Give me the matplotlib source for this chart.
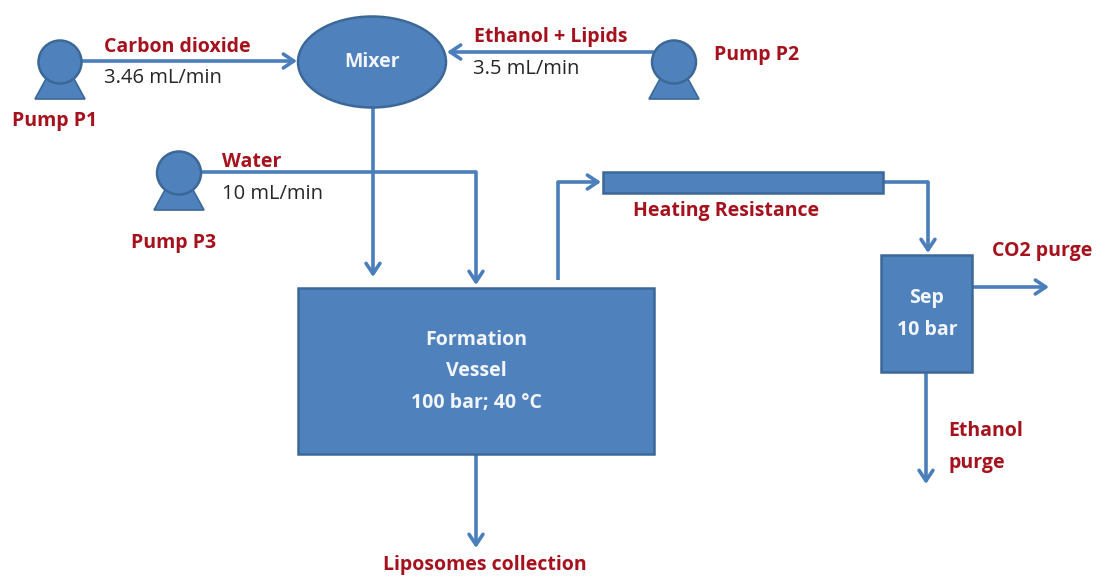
"""Process flow sheet: liposome formation with dense CO2."""

import matplotlib
matplotlib.use('Agg')
import matplotlib.pyplot as plt
from matplotlib.patches import Circle, Ellipse, Polygon, Rectangle

BLUE = '#4f81bd'
EDGE = '#3c6898'
LINE = '#4a7fbc'
RED = '#a5121d'
DARK = '#262626'

# pump: centre x, centre y, radius x, radius y
pump_names = ['P1', 'P2', 'P3']
pump_x = [60, 674, 179]
pump_y = [62, 62, 173]
pump_rx = [21.5, 22, 22]
pump_ry = [21.5, 21.5, 21.5]

# pipes, all of them go through these corners
arrow_paths = [
    [(82, 61), (297, 61)],
    [(653, 52), (447, 52)],
    [(373, 107), (373, 277)],
    [(201, 172), (476, 172), (476, 285)],
    [(558, 280), (558, 182), (601, 182)],
    [(883, 182), (928, 182), (928, 253)],
    [(973, 287), (1049, 287)],
    [(926, 372), (926, 484)],
    [(476, 454), (476, 548)],
]

red_labels = [
    (104, 47, 'Carbon dioxide'),
    (474, 37, 'Ethanol + Lipids'),
    (714, 55, 'Pump P2'),
    (12, 121, 'Pump P1'),
    (222, 162, 'Water'),
    (131, 243, 'Pump P3'),
    (633, 211, 'Heating Resistance'),
    (992, 251, 'CO2 purge'),
    (948, 431, 'Ethanol'),
    (948, 463, 'purge'),
    (383, 565, 'Liposomes collection'),
]
flow_labels = [
    (104, 78, '3.46 mL/min'),
    (473, 69, '3.5 mL/min'),
    (222, 194, '10 mL/min'),
]
white_labels = [
    (372, 62, 'Mixer'),
    (476, 340, 'Formation'),
    (476, 371, 'Vessel'),
    (476, 403, '100 bar; 40 °C'),
    (927, 298, 'Sep'),
    (927, 330, '10 bar'),
]

plt.rcParams['font.family'] = ['Open Sans', 'DejaVu Sans']

fig = plt.figure(figsize=(11.07, 5.77), dpi=100)
ax = fig.add_axes([0, 0, 1, 1])
ax.set_xlim(0, 1107)
ax.set_ylim(577, 0)
ax.axis('off')

# pipes first so the boxes sit on top
for path in arrow_paths:
    xs = [p[0] for p in path]
    ys = [p[1] for p in path]
    ax.plot(xs[:-1], ys[:-1], color=LINE, lw=2.6, solid_capstyle='butt', solid_joinstyle='miter')
    ax.annotate('', xy=path[-1], xytext=path[-2],
                arrowprops=dict(arrowstyle='->,head_length=0.75,head_width=0.5', color=LINE,
                                lw=2.6, shrinkA=0, shrinkB=0))

for name, x, y, rx, ry in zip(pump_names, pump_x, pump_y, pump_rx, pump_ry):
    # base triangle under the pump head
    ax.add_patch(Polygon([(x - 13, y + 15), (x + 13, y + 15), (x + 25, y + 37), (x - 25, y + 37)],
                         closed=True, fc=BLUE, ec=EDGE, lw=1.2, zorder=3))
    ax.add_patch(Ellipse((x, y), 2 * rx, 2 * ry, fc=BLUE, ec=EDGE, lw=1.8, zorder=4))

ax.add_patch(Ellipse((372, 62), 148, 91, fc=BLUE, ec=EDGE, lw=1.8, zorder=4))
ax.add_patch(Rectangle((298, 288), 356, 166, fc=BLUE, ec=EDGE, lw=1.8, zorder=4))
ax.add_patch(Rectangle((603, 172), 280, 21, fc=BLUE, ec=EDGE, lw=1.8, zorder=4))
ax.add_patch(Rectangle((881, 255), 91, 117, fc=BLUE, ec=EDGE, lw=1.8, zorder=4))

for x, y, s in red_labels:
    ax.text(x, y, s, color=RED, fontsize=14, fontweight='bold', ha='left', va='center', zorder=6)
for x, y, s in flow_labels:
    ax.text(x, y, s, color=DARK, fontsize=14.5, ha='left', va='center', zorder=6)
for x, y, s in white_labels:
    ax.text(x, y, s, color='#f2f5fa', fontsize=14, fontweight='bold', ha='center', va='center', zorder=6)

fig.savefig('out.png', dpi=100)
